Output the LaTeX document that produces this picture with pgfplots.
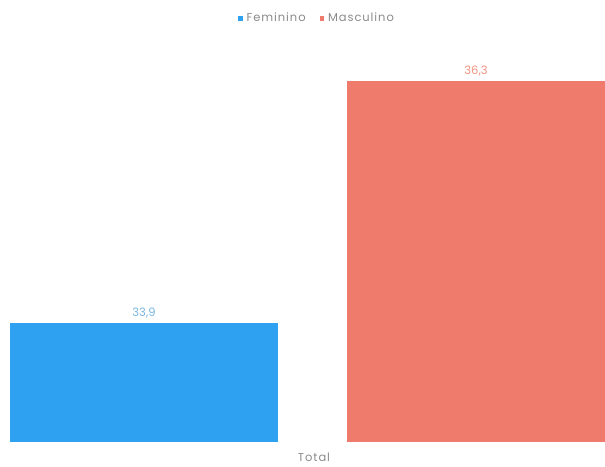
\documentclass[border=0pt]{standalone}
\usepackage{pgfplots}
\pgfplotsset{compat=1.18}
\usepackage{fontspec}
\setmainfont{Poppins}
\newfontfamily\spaced[LetterSpace=8]{Poppins}
\definecolor{fem}{HTML}{2EA2F0}
\definecolor{masc}{HTML}{EE7B6B}
\definecolor{femlab}{HTML}{78B6E0}
\definecolor{masclab}{HTML}{F0917F}
\definecolor{txt}{HTML}{8A8A8A}
\begin{document}
\begin{tikzpicture}
\path[use as bounding box] (0,0) rectangle (605pt,466pt);
\begin{axis}[
  at={(0pt,24pt)}, anchor=south west,
  scale only axis, width=605pt, height=442pt,
  xmin=0, xmax=605, ymin=32.72, ymax=37.105,
  axis line style={draw=none},
  ytick=\empty,
  xtick={314}, xticklabels={Total},
  major tick length=0pt,
  xticklabel style={font=\spaced\fontsize{11.5}{12}\selectfont, text=txt, yshift=-7pt},
  ybar, bar shift=0pt,
  nodes near coords,
  /pgf/number format/use comma,
  /pgf/number format/fixed,
  /pgf/number format/fixed zerofill,
  /pgf/number format/precision=1,
  /pgf/number format/assume math mode=true,
  nodes near coords style={font=\fontsize{11.5}{12}\selectfont, yshift=1pt},
  legend style={at={(0.524,0.959)}, anchor=center, draw=none, fill=none,
    font=\spaced\fontsize{11.5}{12}\selectfont, text=txt,
    legend columns=2,
    /tikz/every odd column/.append style={column sep=2pt},
    /tikz/every even column/.append style={column sep=12pt}},
  legend image code/.code={\fill[#1] (0pt,-2.5pt) rectangle (4.5pt,2pt);},
  legend cell align=left,
]
\addplot[fill=fem, draw=none, bar width=268pt, nodes near coords style={text=femlab}] coordinates {(144,33.9)};
\addplot[fill=masc, draw=none, bar width=258pt, nodes near coords style={text=masclab}] coordinates {(476,36.3)};
\legend{Feminino, Masculino}
\end{axis}
\end{tikzpicture}
\end{document}
